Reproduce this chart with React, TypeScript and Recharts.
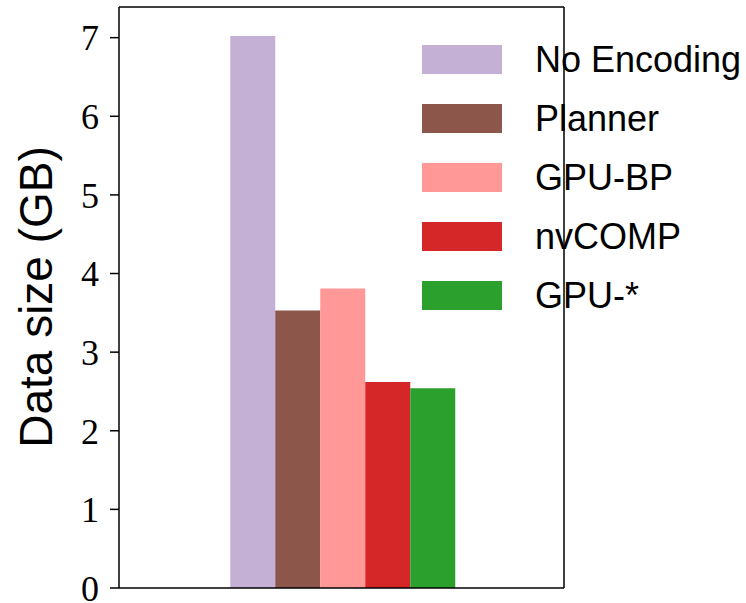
import React from 'react';
import { BarChart, Bar, XAxis, YAxis } from 'recharts';

const seriesNames = ['No Encoding', 'Planner', 'GPU-BP', 'nvCOMP', 'GPU-*'];
const seriesKeys = ['noEncoding', 'planner', 'gpuBp', 'nvcomp', 'gpuStar'];
const seriesValues = [7.02, 3.53, 3.81, 2.62, 2.54];
const seriesColors = ['#c5b0d5', '#8c564b', '#ff9896', '#d62728', '#2ca02c'];
const yTicks = [0, 1, 2, 3, 4, 5, 6, 7];

const row: Record<string, any> = { name: 'data' };
seriesKeys.forEach((k, i) => {
  row[k] = seriesValues[i];
});
const data = [row];

const sans = '"Liberation Sans", Arial, sans-serif';
const serif = '"Liberation Serif", "Times New Roman", serif';
const axisStroke = { stroke: '#000', strokeWidth: 1.5 };

const YLabel = () => (
  <text
    x={52}
    y={297}
    transform="rotate(-90 52 297)"
    textAnchor="middle"
    fontFamily={sans}
    fontSize={46}
    fill="#000"
  >
    Data size (GB)
  </text>
);

const LegendBox = () => (
  <div style={{ position: 'absolute', left: 422, top: 30, fontFamily: sans, fontSize: 36 }}>
    {seriesNames.map((name, i) => (
      <div key={name} style={{ display: 'flex', alignItems: 'center', height: 59, whiteSpace: 'nowrap' }}>
        <div style={{ width: 80, height: 29, background: seriesColors[i] }} />
        <span style={{ marginLeft: 33, color: '#000' }}>{name}</span>
      </div>
    ))}
  </div>
);

const App: React.FC = () => {
  return (
    <div style={{ position: 'absolute', left: 0, top: 0, width: 746, height: 603, background: '#fff' }}>
      <BarChart
        width={746}
        height={603}
        data={data}
        margin={{ top: 6, right: 181, left: 0, bottom: 0 }}
        barCategoryGap="25%"
        barGap={0}
      >
        <XAxis dataKey="name" tick={false} tickLine={false} height={15} axisLine={axisStroke} />
        <XAxis xAxisId="top" orientation="top" dataKey="name" tick={false} tickLine={false} height={1} axisLine={axisStroke} />
        <YAxis
          domain={[0, 7.39]}
          ticks={yTicks}
          interval={0}
          width={119}
          tickSize={9}
          tickMargin={11}
          tickLine={axisStroke}
          axisLine={axisStroke}
          tick={{ fill: '#000', fontSize: 36, fontFamily: serif }}
          label={<YLabel />}
        />
        <YAxis yAxisId="right" orientation="right" domain={[0, 7.39]} tick={false} tickLine={false} width={1} axisLine={axisStroke} />
        {seriesKeys.map((k, i) => (
          <Bar key={k} dataKey={k} name={seriesNames[i]} fill={seriesColors[i]} isAnimationActive={false} />
        ))}
      </BarChart>
      <LegendBox />
    </div>
  );
};

export default App;
